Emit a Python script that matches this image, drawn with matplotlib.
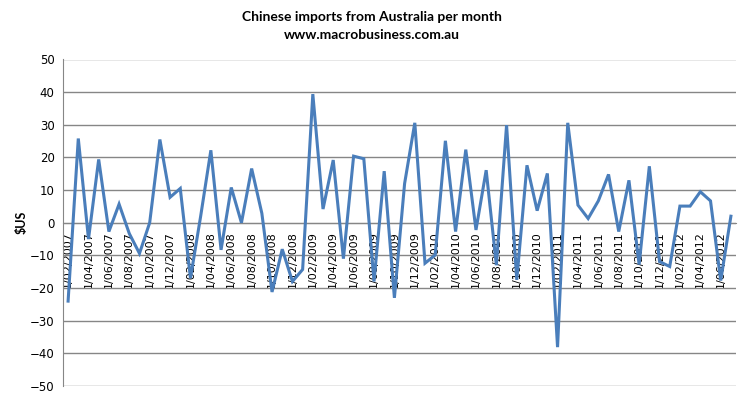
import matplotlib
matplotlib.use("Agg")
import matplotlib.pyplot as plt

months = []
for y in range(2007, 2013):
    for m in range(1, 13):
        if (y == 2007 and m < 2) or (y == 2012 and m > 7):
            continue
        months.append(f"1/{m:02d}/{y}")

values = [
    -24, 25.8, -5, 19.4, -2.7, 5.7, -3.3, -9.4, 0, 25.5, 7.8, 10.5,
    -17, 2, 22.2, -8.3, 10.8, 0, 16.6, 2.9, -21.2, -8.1, -18, -14.3,
    39.4, 4.2, 19.2, -11, 20.4, 19.6, -18, 15.8, -23, 12, 30.6, -12.4,
    -9.9, 25.1, -2.7, 22.4, -2.2, 16.1, -13, 29.9, -17.5, 17.6, 3.7, 15.1,
    -38.1, 30.6, 5.4, 1.3, 6.7, 14.8, -2.7, 13, -12.8, 17.3, -11.9, -13.4,
    5.1, 5.1, 9.5, 6.7, -17.7, 2.0,
]

title_lines = ["Chinese imports from Australia per month", "www.macrobusiness.com.au"]
y_label = "$US"
y_ticks = list(range(-50, 51, 10))

W, H = 745, 396
fig = plt.figure(figsize=(W / 100, H / 100), dpi=100)
ax = fig.add_axes([63 / W, 1 - 386 / H, (736 - 63) / W, (386 - 59.5) / H])

x = list(range(len(values)))
ax.plot(x, values, color="#4A7EBB", lw=2.2, solid_joinstyle="miter", zorder=3)

ax.set_xlim(-0.5, len(values) - 0.5)
ax.set_ylim(-50, 50)
ax.set_yticks(y_ticks)
ax.yaxis.grid(True, color="#868686", lw=1)
ax.set_axisbelow(True)

for s in ["top", "right"]:
    ax.spines[s].set_visible(False)
ax.spines["left"].set_color("#868686")
ax.spines["bottom"].set_position(("data", 0))
ax.spines["bottom"].set_color("#868686")

ax.set_xticks(x[::2])
ax.set_xticklabels(months[::2], rotation=90, fontsize=8, family="DejaVu Sans")
ax.tick_params(axis="x", length=0, pad=6)
ax.tick_params(axis="y", length=0, pad=6, labelsize=8.5)

fig.text(22 / W, 1 - 222 / H, y_label, rotation=90, ha="center", va="center",
         fontsize=9, fontweight="bold", family="Lato")
fig.text(372 / W, 1 - 17 / H, title_lines[0], ha="center", va="center",
         fontsize=10, fontweight="bold", family="Lato")
fig.text(372 / W, 1 - 35 / H, title_lines[1], ha="center", va="center",
         fontsize=10, fontweight="bold", family="Lato")

fig.savefig("out.png", dpi=100)
